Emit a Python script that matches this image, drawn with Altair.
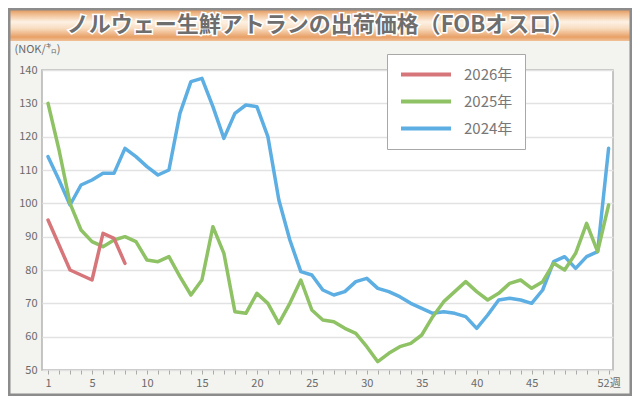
import altair as alt
import pandas as pd

# ---- data ----
weeks_2026 = list(range(1, 9))
price_2026 = [95, 87.5, 80, 78.5, 77, 91, 89.5, 82]

weeks_full = list(range(1, 53))
price_2025 = [130, 116, 100, 92, 88.5, 87, 89, 90, 88.5, 83,
              82.5, 84, 78, 72.5, 77, 93, 85, 67.5, 67, 73,
              70, 64, 70, 77, 68, 65, 64.5, 62.5, 61, 57,
              52.5, 55, 57, 58, 60.5, 66, 70.5, 73.5, 76.5, 73.5,
              71, 73, 76, 77, 74.5, 76.5, 82, 80, 85, 94,
              85.5, 99.5]
price_2024 = [114, 107, 99.5, 105.5, 107, 109, 109, 116.5, 114, 111,
              108.5, 110, 127, 136.5, 137.5, 129, 119.5, 127, 129.5, 129,
              120, 101, 89, 79.5, 78.5, 74, 72.5, 73.5, 76.5, 77.5,
              74.5, 73.5, 72, 70, 68.5, 67, 67.5, 67, 66, 62.5,
              66.5, 71, 71.5, 71, 70, 74, 82.5, 84, 80.5, 84,
              85.5, 116.5]

series_names = ["2026年", "2025年", "2024年"]
series_colors = ["#d7767a", "#8ec264", "#5caee3"]
y_ticks = [50, 60, 70, 80, 90, 100, 110, 120, 130, 140]
x_label_weeks = [1, 5, 10, 15, 20, 25, 30, 35, 40, 45]
title_text = "ノルウェー生鮮アトランの出荷価格（FOBオスロ）"
unit_text = "(NOK/㌔)"

df = pd.concat([
    pd.DataFrame({"week": weeks_2026, "price": price_2026, "year": series_names[0]}),
    pd.DataFrame({"week": weeks_full, "price": price_2025, "year": series_names[1]}),
    pd.DataFrame({"week": weeks_full, "price": price_2024, "year": series_names[2]}),
])

FONT = "Noto Sans CJK JP"
W, H = 571, 300

color_scale = alt.Scale(domain=series_names, range=series_colors)

x_enc = alt.X(
    "week:Q",
    scale=alt.Scale(domain=[0.45, 52.4], nice=False, zero=False),
    axis=alt.Axis(
        values=weeks_full,
        labelExpr="indexof([1,5,10,15,20,25,30,35,40,45], datum.value) >= 0 ? datum.label : (datum.value == 52 ? '52週' : '')",
        grid=False, domain=False, ticks=True, tickSize=4, tickColor="#aaaaaa",
        labelColor="#6a6a6a", labelFontSize=11, labelPadding=3, labelFont=FONT,
        labelOverlap=False, labelFlush=False, title=None,
    ),
)
y_enc = alt.Y(
    "price:Q",
    scale=alt.Scale(domain=[50, 140], nice=False, zero=False),
    axis=alt.Axis(
        values=y_ticks, grid=True, gridColor="#e2e2e2", gridWidth=1.5,
        domain=False, ticks=False, labelColor="#6a6a6a", labelFontSize=11,
        labelFont=FONT, labelPadding=5,
        title=unit_text, titleAngle=0, titleX=-28, titleY=-21,
        titleAlign="left", titleBaseline="middle", titleFontWeight="normal",
        titleColor="#6a6a6a", titleFontSize=11, titleFont=FONT,
    ),
)
color_enc = alt.Color(
    "year:N", scale=color_scale, sort=series_names,
    legend=alt.Legend(
        title=None, orient="none", legendX=345, legendY=-16,
        fillColor="white", strokeColor="#a8a8a8", padding=12,
        symbolType="stroke", symbolSize=2500, symbolStrokeWidth=4,
        labelFontSize=15, labelColor="#777777", labelFont=FONT,
        clipHeight=17, rowPadding=10, labelOffset=11,
    ),
)

lines = []
for name in ["2024年", "2025年", "2026年"]:
    lines.append(
        alt.Chart(df[df["year"] == name]).mark_line(strokeWidth=3.5, strokeJoin="round", strokeCap="round")
        .encode(x=x_enc, y=y_enc, color=color_enc)
    )

one = pd.DataFrame({"t": [title_text]})

grad = alt.Gradient(
    gradient="linear", x1=0, x2=0, y1=0, y2=1,
    stops=[
        alt.GradientStop(color="#d8884a", offset=0),
        alt.GradientStop(color="#f0bb8c", offset=0.18),
        alt.GradientStop(color="#fdf1e4", offset=0.42),
        alt.GradientStop(color="#f8dcc0", offset=0.62),
        alt.GradientStop(color="#e8a066", offset=0.88),
        alt.GradientStop(color="#f0c19a", offset=1),
    ],
)
title_bar = alt.Chart(one).mark_rect(fill=grad).encode(
    x=alt.value(-34), x2=alt.value(590), y=alt.value(-62), y2=alt.value(-29)
)
frame = alt.Chart(one).mark_rect(fill=None, filled=False, stroke="#8c8c8c", strokeWidth=3).encode(
    x=alt.value(-33), x2=alt.value(589), y=alt.value(-61), y2=alt.value(325)
)
title_halo = alt.Chart(one).mark_text(
    font=FONT, fontSize=22, fontWeight="bold", color="white", stroke="white", strokeWidth=3,
    align="center", baseline="middle"
).encode(x=alt.value(278), y=alt.value(-45), text="t:N")
title_txt = alt.Chart(one).mark_text(
    font=FONT, fontSize=22, fontWeight="bold", color="#6e6e6e",
    align="center", baseline="middle"
).encode(x=alt.value(278), y=alt.value(-45), text="t:N")

chart = alt.layer(title_bar, frame, title_halo, title_txt, *lines).properties(
    width=W, height=H,
    autosize=alt.AutoSizeParams(type="none"),
    padding={"left": 34, "top": 62, "right": 19, "bottom": 26},
).configure(background="#f3f3ef").configure_view(
    fill="white", stroke="#b4b4b4", strokeWidth=1.5
)

chart.save("out.html", embed_options={"renderer": "svg", "actions": False})
